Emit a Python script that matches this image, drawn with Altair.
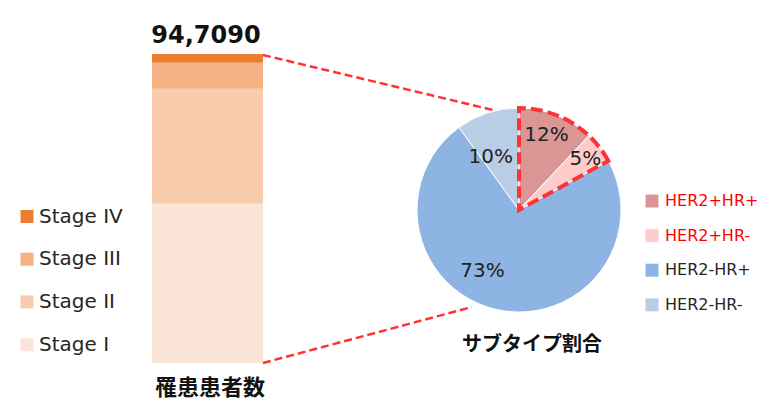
import altair as alt
import pandas as pd

# ---- data ----
stages = ["Stage I", "Stage II", "Stage III", "Stage IV"]
stage_counts = [488200, 352500, 79700, 26690]
stage_colors = ["#FBE5D6", "#F8CBAD", "#F4B183", "#ED7D31"]
total_label = "94,7090"
bar_title = "罹患患者数"

subtypes = ["HER2+HR+", "HER2+HR-", "HER2-HR+", "HER2-HR-"]
subtype_pct = [12, 5, 73, 10]
subtype_colors = ["#D99694", "#FFCCCC", "#8DB4E2", "#B9CDE5"]
highlight = [1, 1, 0, 0]
pie_title = "サブタイプ割合"

stage_df = pd.DataFrame({"stage": stages, "count": stage_counts, "idx": list(range(len(stages)))})
sub_df = pd.DataFrame({"subtype": subtypes, "pct": subtype_pct,
                       "idx": list(range(len(subtypes))), "hl": highlight})

# ---- layout constants ----
CX, CY, R = 511, 202, 102
yscale = alt.Scale(domain=[0, sum(stage_counts)], range=[355, 46], nice=False, zero=True)
tscale = alt.Scale(domain=[0, 100])

bar = alt.Chart(stage_df).mark_bar(orient="vertical").encode(
    x=alt.value(144), x2=alt.value(255),
    y=alt.Y("count:Q", stack="zero", scale=yscale, axis=None),
    color=alt.Color("stage:N",
                    scale=alt.Scale(domain=stages[::-1], range=stage_colors[::-1]),
                    legend=alt.Legend(title=None, orient="none", legendX=9, legendY=198.5,
                                      symbolType="square", symbolSize=169, symbolStrokeWidth=0,
                                      labelFontSize=20, labelFont="DejaVu Sans", labelColor="#262626",
                                      rowPadding=22.7, labelOffset=2, padding=0)),
    order=alt.Order("idx:Q", sort="ascending"),
)

total_text = alt.Chart(stage_df).transform_aggregate(total="sum(count)").transform_calculate(
    t=f"'{total_label}'"
).mark_text(font="DejaVu Sans", fontWeight="bold", fontSize=24, dy=-18, color="#111111").encode(
    x=alt.value(198), y=alt.Y("total:Q", scale=yscale, axis=None), text="t:N"
)

bar_title_text = alt.Chart(pd.DataFrame({"t": [bar_title]})).mark_text(
    font="Noto Sans CJK JP", fontWeight="bold", fontSize=22, color="#111111"
).encode(x=alt.value(202), y=alt.value(380), text="t:N")

one = pd.DataFrame({"a": [0]})
conn_style = dict(color="#FF3333", strokeWidth=2.5, strokeDash=[8, 4])
conn1 = alt.Chart(one).mark_rule(**conn_style).encode(
    x=alt.value(255), y=alt.value(47), x2=alt.value(485), y2=alt.value(102))
conn2 = alt.Chart(one).mark_rule(**conn_style).encode(
    x=alt.value(255), y=alt.value(355), x2=alt.value(464), y2=alt.value(299))

pie = alt.Chart(sub_df).mark_arc(radius=R, stroke="white", strokeWidth=1).encode(
    x=alt.value(CX), y=alt.value(CY),
    theta=alt.Theta("pct:Q", stack=True, scale=tscale),
    color=alt.Color("subtype:N",
                    scale=alt.Scale(domain=subtypes, range=subtype_colors),
                    legend=alt.Legend(title=None, orient="none", legendX=636, legendY=185,
                                      symbolType="square", symbolSize=169, symbolStrokeWidth=0,
                                      labelFontSize=16, labelFont="DejaVu Sans",
                                      labelColor=alt.ExprRef("indexof(datum.label, 'HER2+') == 0 ? '#FF0000' : '#262626'"),
                                      rowPadding=18.6, labelOffset=5, padding=0)),
    order=alt.Order("idx:Q", sort="ascending"),
)

outline = alt.Chart(sub_df).transform_aggregate(
    pct="sum(pct)", groupby=["hl"]
).transform_calculate(o="1 - datum.hl").mark_arc(
    radius=R, fillOpacity=0, stroke="#FF3333", strokeWidth=4, strokeDash=[12, 5]
).encode(
    x=alt.value(CX), y=alt.value(CY),
    theta=alt.Theta("pct:Q", stack=True, scale=tscale),
    order=alt.Order("o:Q", sort="ascending"),
    strokeOpacity=alt.condition("datum.hl == 1", alt.value(1), alt.value(0)),
)

label_adj = {"HER2+HR+": (80, -0.4), "HER2+HR-": (84, 0.0),
             "HER2-HR+": (71, 5.1), "HER2-HR-": (60, -2.8)}
labels = []
for name, (rad, off) in label_adj.items():
    labels.append(
        alt.Chart(sub_df).transform_window(
            cum="sum(pct)", sort=[alt.SortField("idx")]
        ).transform_calculate(
            a=f"datum.cum - datum.pct / 2 + ({off})", lbl="datum.pct + '%'"
        ).transform_filter(alt.datum.subtype == name).mark_text(
            radius=rad, font="DejaVu Sans", fontSize=20, color="#222222"
        ).encode(
            x=alt.value(CX), y=alt.value(CY),
            theta=alt.Theta("a:Q", scale=tscale), text="lbl:N"
        )
    )

pie_title_text = alt.Chart(pd.DataFrame({"t": [pie_title]})).mark_text(
    font="Noto Sans CJK JP", fontWeight="bold", fontSize=20, color="#111111"
).encode(x=alt.value(524), y=alt.value(337), text="t:N")

chart = alt.layer(
    bar, total_text, bar_title_text, conn1, conn2, pie, outline, *labels, pie_title_text
).resolve_scale(color="independent").properties(
    width=755, height=393, autosize=alt.AutoSizeParams(type="none"), padding=0,
    background="white"
).configure_view(stroke=None)

chart.save("out.html", embed_options={"renderer": "svg", "actions": False})
